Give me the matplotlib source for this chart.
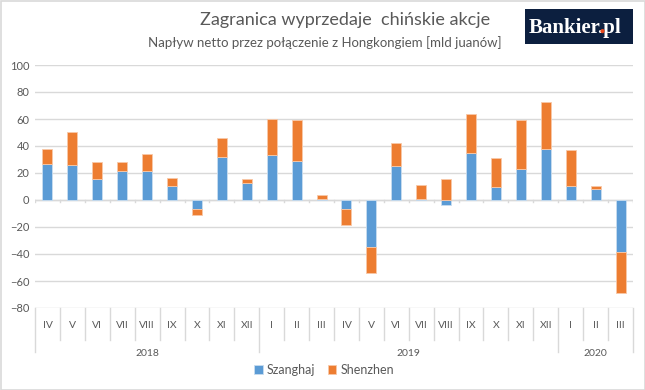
import matplotlib
matplotlib.use("Agg")
import matplotlib.pyplot as plt
import matplotlib.transforms as mtransforms
from matplotlib.patches import Rectangle, Ellipse
import numpy as np

plt.rcParams['font.family'] = ['Lato', 'DejaVu Sans']

# miesiace i lata
months = ['IV', 'V', 'VI', 'VII', 'VIII', 'IX', 'X', 'XI', 'XII',
          'I', 'II', 'III', 'IV', 'V', 'VI', 'VII', 'VIII', 'IX', 'X', 'XI', 'XII',
          'I', 'II', 'III']
years = ['2018', '2019', '2020']
months_per_year = [9, 12, 3]

# naplyw netto [mld juanow]
szanghaj = [26.7, 25.7, 15.8, 21.2, 21.2, 10.6, -6.4, 31.9, 12.6,
            33.1, 28.9, 0.5, -6.9, -34.6, 25.4, 0.5, -3.7, 34.6, 9.6, 22.7, 37.5,
            10.6, 7.9, -38.3]
shenzhen = [11.1, 24.3, 12.1, 6.7, 13.1, 5.9, -4.5, 14.0, 2.7,
            26.9, 30.4, 3.2, -11.9, -19.7, 16.6, 10.6, 15.3, 29.1, 21.8, 36.6, 34.8,
            26.7, 2.5, -30.3]

blue = '#5b9bd5'
orange = '#ed7d31'
grey_txt = '#595959'
grid_c = '#d9d9d9'

fig = plt.figure(figsize=(6.45, 3.9), dpi=100)
W, H = 645, 390
ax = fig.add_axes([35 / W, 1 - 308 / H, (633 - 35) / W, (308 - 65) / H])

x = np.arange(len(months))
sz = np.array(szanghaj)
sh = np.array(shenzhen)
# Shenzhen stacked on top of Szanghaj in the same direction as its own sign
base = np.where(sh * sz > 0, sz, 0)
ax.bar(x, sz, width=0.4, color=blue, edgecolor='#c9ddf0', linewidth=0.6, label='Szanghaj', zorder=3)
ax.bar(x, sh, width=0.4, bottom=base, color=orange, edgecolor='#f8c8a8', linewidth=0.6, label='Shenzhen', zorder=3)

ax.set_xlim(-0.5, len(months) - 0.5)
ax.set_ylim(-80, 100)
ax.set_yticks(range(-80, 101, 20))
ax.tick_params(axis='y', length=0, labelsize=8, labelcolor=grey_txt, pad=4)
ax.set_xticks([])
ax.grid(axis='y', color=grid_c, linewidth=1, zorder=0)
for s in ax.spines.values():
    s.set_visible(False)
ax.axhline(0, color=grid_c, linewidth=1, zorder=2)

# small ticks on the zero line between categories
for b in np.arange(-0.5, len(months), 1.0):
    ax.plot([b, b], [0, -1.6], color=grid_c, linewidth=1, zorder=2)

# category axis below the plot
trans = mtransforms.blended_transform_factory(ax.transData, fig.transFigure)
month_bottom = 1 - 340 / H
year_bottom = 1 - 352 / H
top = 1 - 308 / H
for i, m in enumerate(months):
    ax.text(i, 1 - 325 / H, m, transform=trans, ha='center', va='center',
            fontsize=7.5, color=grey_txt)
edges = np.cumsum([0] + months_per_year) - 0.5
for b in np.arange(-0.5, len(months), 1.0):
    yb = year_bottom if b in edges else month_bottom
    ax.plot([b, b], [top, yb], transform=trans, color=grid_c, linewidth=1, clip_on=False)
for k, yr in enumerate(years):
    mid = (edges[k] + edges[k + 1]) / 2
    ax.text(mid, 1 - 353 / H, yr, transform=trans, ha='center', va='center',
            fontsize=7.5, color=grey_txt)

leg = fig.legend(loc='center', bbox_to_anchor=(324 / W, 1 - 370 / H), ncol=2, frameon=False,
                 fontsize=9, handlelength=0.7, handleheight=0.7, handletextpad=0.3,
                 columnspacing=1.0, labelcolor=grey_txt)

fig.text(345 / W, 1 - 20 / H, 'Zagranica wyprzedaje  chińskie akcje', ha='center', va='center',
         fontsize=13, color=grey_txt)
fig.text(325 / W, 1 - 43 / H, 'Napływ netto przez połączenie z Hongkongiem [mld juanów]',
         ha='center', va='center', fontsize=9.5, color=grey_txt)

# logo, with the dot painted orange
fig.patches.append(Rectangle((525 / W, 1 - 44 / H), 108 / W, 35 / H, transform=fig.transFigure,
                             facecolor='#0c1f3f', edgecolor='none'))
logo_kw = dict(fontsize=15, fontweight='bold', family='Liberation Serif', va='baseline',
               ha='left', zorder=5)
lx, ly = 529, 33
r = fig.canvas.get_renderer()
tmp = fig.text(lx / W, 1 - ly / H, 'Bankier', **logo_kw)
w1 = tmp.get_window_extent(r).width
tmp.set_text('Bankier.')
w2 = tmp.get_window_extent(r).width
tmp.remove()
fig.text(lx / W, 1 - ly / H, 'Bankier.pl', color='white', **logo_kw)
dot_x = lx + (w1 + w2) / 2
fig.patches.append(Ellipse((dot_x / W, 1 - (ly - 1.9) / H), 4.2 / W, 4.2 / H,
                           transform=fig.transFigure, facecolor='#e8481c',
                           edgecolor='none', zorder=6))

# outer frame
fig.patches.append(Rectangle((0.5 / W, 0.5 / H), 1 - 1 / W, 1 - 1 / H, transform=fig.transFigure,
                             facecolor='none', edgecolor='#d9d9d9', linewidth=1.2))

fig.savefig('out.png', dpi=100)
